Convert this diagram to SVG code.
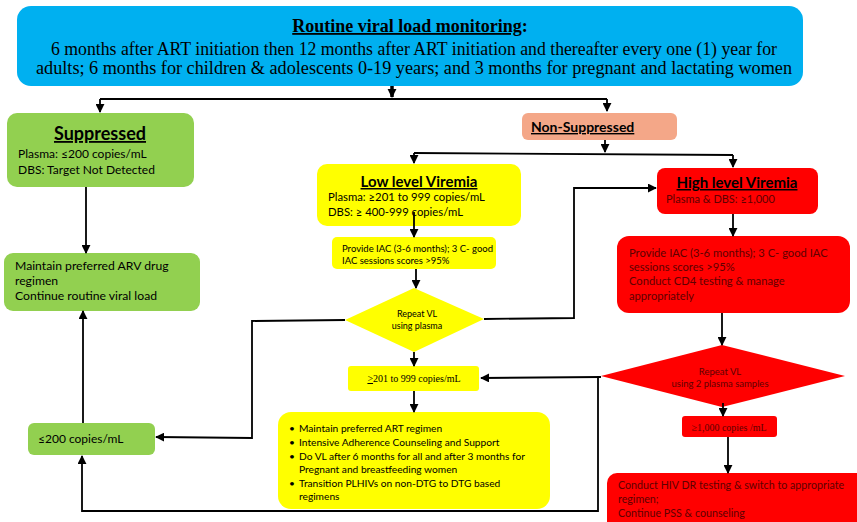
<svg xmlns="http://www.w3.org/2000/svg" width="857" height="522" viewBox="0 0 857 522">
<defs>
<marker id="ah" viewBox="0 0 10 10" refX="9" refY="5" markerWidth="5" markerHeight="5" orient="auto" markerUnits="strokeWidth"><path d="M0,0 L10,5 L0,10 z" fill="#000"/></marker>
<marker id="ahb" viewBox="0 0 10 10" refX="9" refY="5" markerWidth="2.6" markerHeight="2.6" orient="auto" markerUnits="strokeWidth"><path d="M0,0 L10,5 L0,10 z" fill="#000"/></marker>
</defs>
<style>
.c{fill:none;stroke:#000;stroke-width:1.8}
.ca{fill:none;stroke:#000;stroke-width:1.8;marker-end:url(#ah)}
.s{font-family:Lato,"Liberation Sans",sans-serif;fill:#000}
.t{font-family:"Liberation Serif","Times New Roman",serif;fill:#000}
.r{fill:#5e0000}
.b{font-weight:bold;text-decoration:underline}
</style>
<rect width="857" height="522" fill="#fff"/>

<g id="top">
<rect x="17" y="6" width="786" height="80" rx="14" fill="#00B0F0"/>
<text class="t" x="410" y="32" font-size="18" font-weight="bold" text-anchor="middle"><tspan text-decoration="underline">Routine viral load monitoring</tspan>:</text>
<text class="t" x="414" y="55" font-size="18" text-anchor="middle" textLength="726" lengthAdjust="spacingAndGlyphs">6 months after ART initiation then 12 months after ART initiation and thereafter every one (1) year for</text>
<text class="t" x="414" y="74" font-size="18" text-anchor="middle" textLength="756" lengthAdjust="spacingAndGlyphs">adults; 6 months for children &amp; adolescents 0-19 years; and 3 months for pregnant and lactating women</text>
</g>

<g id="suppressed">
<rect x="7" y="113" width="187" height="74" rx="10" fill="#92D050"/>
<text class="s b" x="100" y="140" font-size="18" text-anchor="middle">Suppressed</text>
<text class="s" x="18" y="158" font-size="12">Plasma: ≤200 copies/mL</text>
<text class="s" x="18" y="174" font-size="12">DBS: Target Not Detected</text>
</g>

<g id="maintain">
<rect x="4" y="253" width="196" height="58" rx="9" fill="#92D050"/>
<text class="s" x="15" y="270" font-size="12.2">Maintain preferred ARV drug</text>
<text class="s" x="15" y="285" font-size="12.2">regimen</text>
<text class="s" x="15" y="300" font-size="12.2">Continue routine viral load</text>
</g>

<g id="le200">
<rect x="28" y="423" width="127" height="32" rx="6" fill="#92D050"/>
<text class="s" x="38" y="443" font-size="12">≤200 copies/mL</text>
</g>

<g id="nonsuppressed">
<rect x="522" y="113" width="155" height="27" rx="6" fill="#F4A788"/>
<text class="s b" x="531" y="132" font-size="14">Non-Suppressed</text>
</g>

<g id="low">
<rect x="317" y="164" width="204" height="62" rx="10" fill="#FFFF00"/>
<text class="s b" x="419" y="187" font-size="15" text-anchor="middle">Low level Viremia</text>
<text class="s" x="328" y="201" font-size="11.3">Plasma: ≥201 to 999 copies/mL</text>
<text class="s" x="328" y="216" font-size="11.3">DBS: ≥ 400-999 copies/mL</text>
</g>

<g id="iac-low">
<rect x="332" y="237" width="164" height="32" rx="5" fill="#FFFF00"/>
<text class="s" x="342" y="252" font-size="9.5">Provide IAC (3-6 months); 3 C- good</text>
<text class="s" x="342" y="264" font-size="9.5">IAC sessions scores &gt;95%</text>
</g>

<g id="repeat-low">
<polygon points="414,288 484,319 414,352 345,320" fill="#FFFF00"/>
<text class="s" x="417" y="317" font-size="9" text-anchor="middle">Repeat VL</text>
<text class="s" x="417" y="329" font-size="9" text-anchor="middle">using plasma</text>
</g>

<g id="ge201">
<rect x="348" y="366" width="131" height="25" rx="3" fill="#FFFF00"/>
<text class="t" x="414" y="382" font-size="10" text-anchor="middle"><tspan text-decoration="underline">&gt;</tspan>201 to 999 copies/mL</text>
</g>

<g id="bullets">
<rect x="278" y="412" width="272" height="97" rx="13" fill="#FFFF00"/>
<g class="s" font-size="10.2">
<text x="289" y="432">•</text><text x="299" y="432">Maintain preferred ART regimen</text>
<text x="289" y="446">•</text><text x="299" y="446">Intensive Adherence Counseling and Support</text>
<text x="289" y="460">•</text><text x="299" y="460">Do VL after 6 months for all and after 3 months for</text>
<text x="299" y="473">Pregnant and breastfeeding women</text>
<text x="289" y="487">•</text><text x="299" y="487">Transition PLHIVs on non-DTG to DTG based</text>
<text x="299" y="500">regimens</text>
</g>
</g>

<g id="high">
<rect x="657" y="168" width="161" height="46" rx="8" fill="#FF0000"/>
<text class="s b" x="737" y="188" font-size="15" text-anchor="middle">High level Viremia</text>
<text class="s r" x="666" y="203" font-size="11">Plasma &amp; DBS: ≥1,000</text>
</g>

<g id="iac-high">
<rect x="617" y="236" width="233" height="77" rx="12" fill="#FF0000"/>
<text class="s r" x="629" y="257" font-size="11.2">Provide IAC (3-6 months); 3 C- good IAC</text>
<text class="s r" x="629" y="271" font-size="11.2">sessions scores &gt;95%</text>
<text class="s r" x="629" y="285" font-size="11.2">Conduct CD4 testing &amp; manage</text>
<text class="s r" x="629" y="300" font-size="11.2">appropriately</text>
</g>

<g id="repeat-high">
<polygon points="722,345 845,376 722,407 601,376" fill="#FF0000"/>
<text class="s r" x="720" y="375" font-size="9.5" text-anchor="middle">Repeat VL</text>
<text class="s r" x="720" y="387" font-size="9.5" text-anchor="middle">using 2 plasma samples</text>
</g>

<g id="ge1000">
<rect x="682" y="416" width="95" height="21" rx="3" fill="#FF0000"/>
<text class="t r" x="729" y="431" font-size="10" text-anchor="middle">≥1,000 copies /mL</text>
</g>

<g id="drtest">
<rect x="607" y="473" width="262" height="70" rx="10" fill="#FF0000"/>
<text class="s r" x="618" y="489" font-size="10.7">Conduct HIV DR testing &amp; switch to appropriate</text>
<text class="s r" x="618" y="503" font-size="10.7">regimen;</text>
<text class="s r" x="618" y="517" font-size="10.7">Continue PSS &amp; counseling</text>
</g>

<g id="connectors">
<path d="M392,86 V97" fill="none" stroke="#000" stroke-width="3.5" marker-end="url(#ahb)"/>
<path class="c" d="M100,99 H607"/>
<path class="ca" d="M100,99 V112"/>
<path class="ca" d="M607,99 V111"/>
<path class="ca" d="M86,187 V253"/>
<path class="ca" d="M83,423 V311"/>
<path class="ca" d="M605,140 V152"/>
<path class="c" d="M414,153 L733,155"/>
<path class="ca" d="M414,153 V163"/>
<path class="ca" d="M733,155 V167"/>
<path class="ca" d="M414,212 V237"/>
<path class="ca" d="M416,269 V288"/>
<path class="ca" d="M414,352 V366"/>
<path class="ca" d="M414,391 V412"/>
<path class="ca" d="M345,320 L252,321 V438 L156,437"/>
<path class="ca" d="M484,319 L574,318 V188 H656"/>
<path class="ca" d="M733,214 V236"/>
<path class="ca" d="M722,313 V345"/>
<path class="ca" d="M723,403 V416"/>
<path class="ca" d="M728,437 V473"/>
<path class="ca" d="M601,377 L481,378"/>
<path class="ca" d="M598,377 V511 H82 V456"/>
</g>
</svg>
